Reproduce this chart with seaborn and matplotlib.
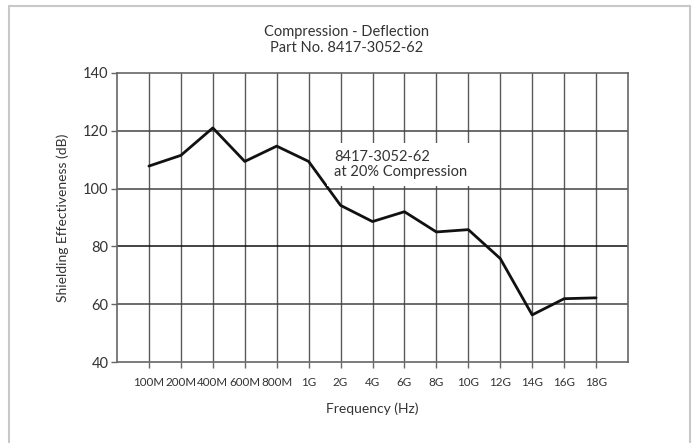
import matplotlib
matplotlib.use("Agg")
import matplotlib.pyplot as plt
import seaborn as sns
import pandas as pd
from matplotlib.patches import Rectangle

# Measured shielding effectiveness across frequency
frequencies = ["100M", "200M", "400M", "600M", "800M", "1G", "2G", "4G",
               "6G", "8G", "10G", "12G", "14G", "16G", "18G"]
shielding_db = [107.8, 111.5, 121.0, 109.4, 114.7, 109.4, 94.2, 88.6,
                92.0, 85.0, 85.8, 75.8, 56.3, 61.9, 62.2]
y_ticks = [40, 60, 80, 100, 120, 140]

df = pd.DataFrame({"Frequency": frequencies, "SE": shielding_db})

sns.set_theme(style="white")
plt.rcParams["font.family"] = ["Lato", "DejaVu Sans"]
text_color = "#333333"

fig = plt.figure(figsize=(6.93, 4.43), dpi=100)
ax = fig.add_axes([117 / 693, 81 / 443, 511 / 693, 289 / 443])

sns.lineplot(data=df, x="Frequency", y="SE", ax=ax, color="#111111",
             linewidth=2.0, sort=False)

ax.set_xlim(-1, len(frequencies))
ax.set_ylim(40, 140)
ax.set_xticks(range(len(frequencies)))
ax.set_xticklabels(frequencies, fontsize=8.35)
ax.set_yticks(y_ticks)

# Grid: every category vertically, every 20 dB horizontally
for i in range(len(frequencies)):
    ax.axvline(i, color="#5a5a5a", linewidth=1.0, zorder=0)
for v in y_ticks[1:-1]:
    ax.axhline(v, color="#111111" if v == 80 else "#444444",
               linewidth=1.1, zorder=0)

for side in ["left", "bottom", "top", "right"]:
    ax.spines[side].set_color("#666666")
    ax.spines[side].set_linewidth(1.2)

ax.tick_params(axis="both", which="both", direction="out", length=4,
               width=1, color="#666666", labelcolor=text_color, pad=2,
               bottom=True, left=True)
ax.tick_params(axis="y", labelsize=10.5)
ax.tick_params(axis="x", pad=7)

ax.set_xlabel("Frequency (Hz)", fontsize=10, color=text_color, labelpad=10)
ax.set_ylabel("Shielding Effectiveness (dB)", fontsize=10,
              color=text_color, labelpad=10)

fig.text(0.5, 0.91, "Compression - Deflection\nPart No. 8417-3052-62",
         ha="center", va="center", fontsize=10.5, color=text_color,
         linespacing=1.2)

ax.text(5.8, 108.3, "8417-3052-62\nat 20% Compression", fontsize=10.5,
        color=text_color, ha="left", va="center", linespacing=1.15,
        bbox=dict(facecolor="white", edgecolor="none", pad=5), zorder=5)

# Light frame around the whole figure
fig.patches.append(Rectangle((9 / 693, -0.02), 681 / 693, 1.0 - 6 / 443 + 0.02,
                             transform=fig.transFigure, fill=False,
                             edgecolor="#c8c8c8", linewidth=1.5))

fig.savefig("out.png", dpi=100)
